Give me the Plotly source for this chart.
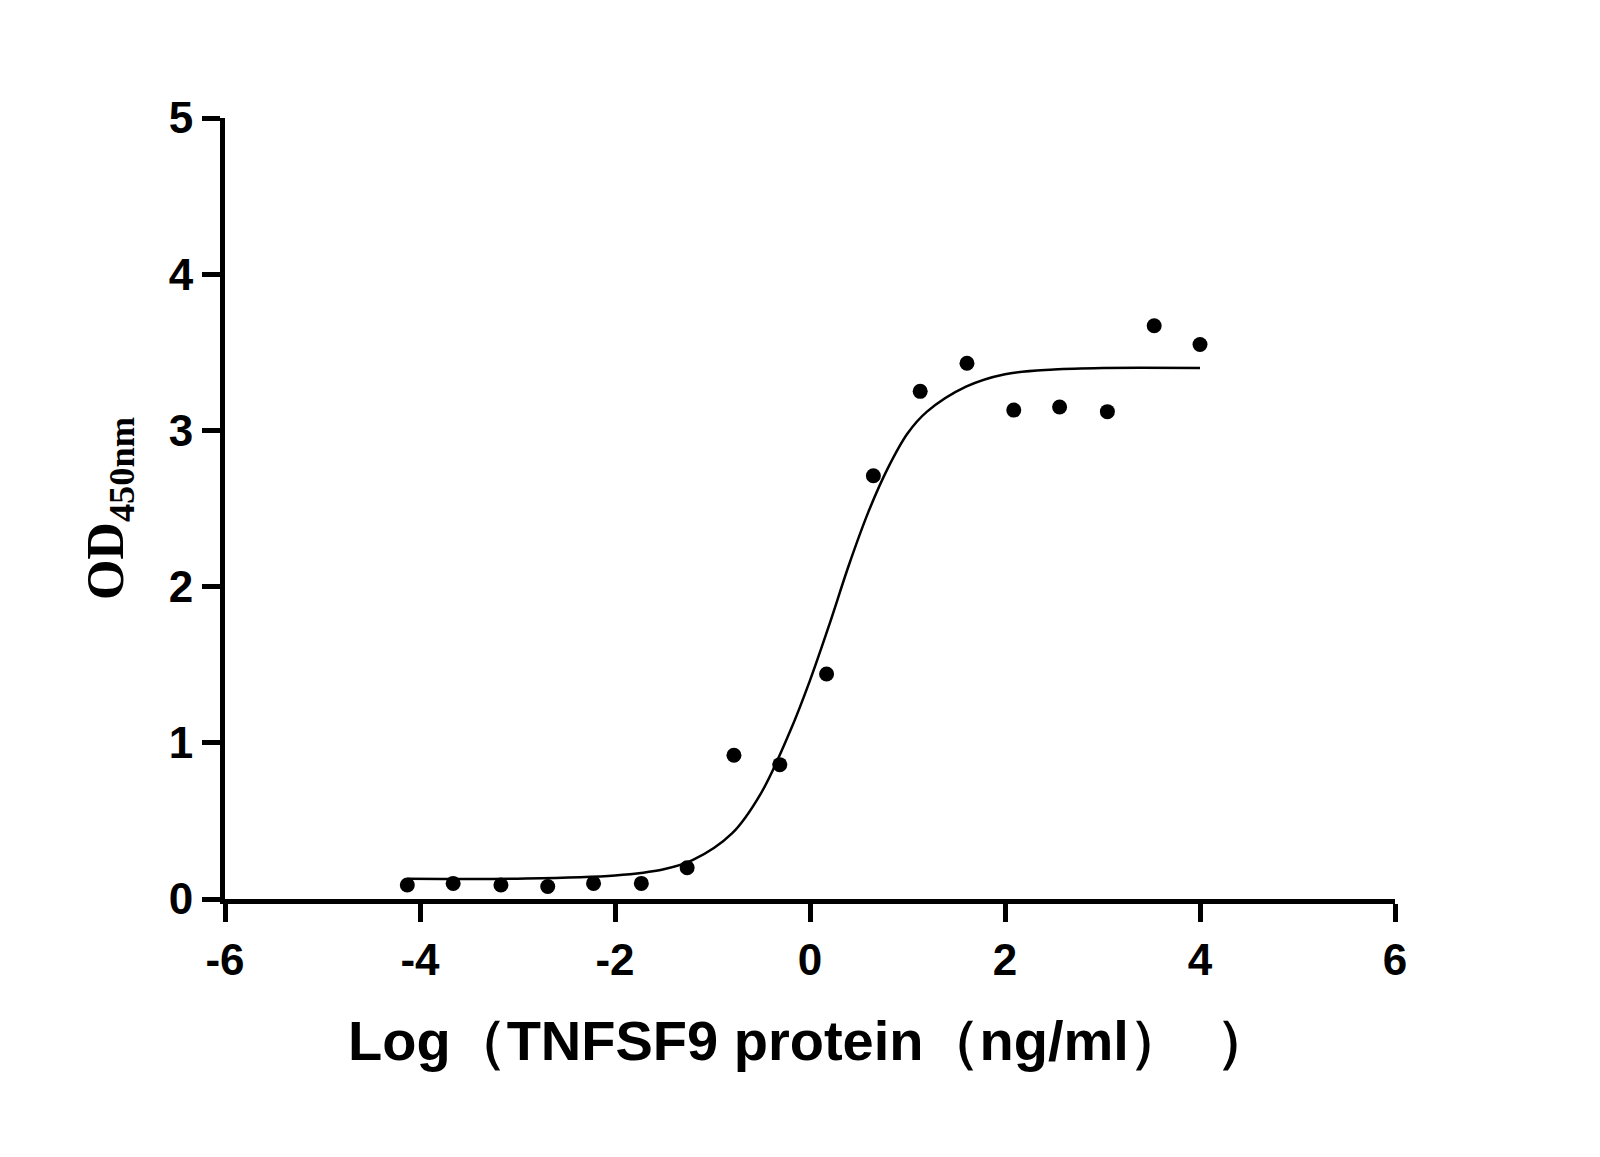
import plotly.graph_objects as go

log_conc = [-4.13, -3.66, -3.17, -2.69, -2.22, -1.73, -1.26, -0.78, -0.31, 0.17,
            0.65, 1.13, 1.61, 2.09, 2.56, 3.05, 3.53, 4.0]
od = [0.09, 0.10, 0.09, 0.08, 0.10, 0.10, 0.20, 0.92, 0.86, 1.44,
      2.71, 3.25, 3.43, 3.13, 3.15, 3.12, 3.67, 3.55]

fit_x = [-4.13, -3.0, -2.0, -1.5, -1.2, -0.8, -0.5, -0.2, 0.0, 0.2, 0.4, 0.6, 0.8,
         1.0, 1.2, 1.6, 2.0, 2.5, 3.0, 4.0]
fit_y = [0.13, 0.13, 0.15, 0.19, 0.25, 0.42, 0.68, 1.08, 1.40, 1.76, 2.14, 2.48, 2.76,
         2.98, 3.12, 3.28, 3.36, 3.39, 3.40, 3.40]

xticks = [-6, -4, -2, 0, 2, 4, 6]
xtick_labels = ["-6", "-4", "-2", "0", "2", "4", "6"]
yticks = [0, 1, 2, 3, 4, 5]

fig = go.Figure()
fig.add_trace(go.Scatter(x=fit_x, y=fit_y, mode="lines", line=dict(color="black", width=2.5, shape="spline", smoothing=1.0),
                         showlegend=False, cliponaxis=False))
fig.add_trace(go.Scatter(x=log_conc, y=od, mode="markers", marker=dict(color="black", size=15),
                         showlegend=False, cliponaxis=False))

tickfont = dict(family="Liberation Sans, Arial", size=44, color="black", weight="bold")
fig.update_layout(
    width=1600, height=1157, plot_bgcolor="white", paper_bgcolor="white",
    margin=dict(l=217, r=213, t=110, b=266),
    xaxis=dict(range=[-6, 6], tickvals=xticks, ticktext=xtick_labels, showgrid=False, zeroline=False,
               showline=True, linecolor="black", linewidth=5, ticks="outside", ticklen=18, tickwidth=5,
               tickcolor="black", tickfont=tickfont,
               title=dict(text="<b>Log（TNFSF9 protein（ng/ml）  ）</b>", font=dict(family="Liberation Sans, Arial", size=56, color="black"), standoff=40)),
    yaxis=dict(range=[0, 5], tickvals=yticks, showgrid=False, zeroline=False,
               showline=True, linecolor="black", linewidth=5, ticks="outside", ticklen=18, tickwidth=5,
               tickcolor="black", tickfont=tickfont,
               title=dict(text="<b>OD<sub>450nm</sub></b>", font=dict(family="Liberation Serif, Times New Roman", size=52, color="black"), standoff=30)),
)
fig.write_html("out.html")
